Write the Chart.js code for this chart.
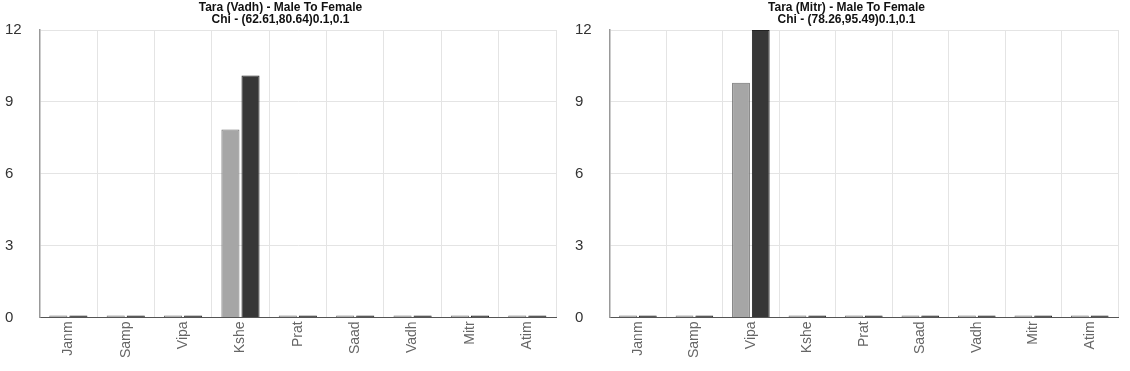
<!DOCTYPE html>
<html>
<head>
<meta charset="utf-8">
<script src="https://cdn.jsdelivr.net/npm/chart.js@4/dist/chart.umd.min.js"></script>
<style>
  html, body { margin: 0; padding: 0; background: #fff; }
  .wrap { position: absolute; top: 0; width: 565px; height: 371px; }
  #w1 { left: 0; }
  #w2 { left: 565px; }
</style>
</head>
<body>
<div class="wrap" id="w1"><canvas id="c1"></canvas></div>
<div class="wrap" id="w2"><canvas id="c2"></canvas></div>
<script>
// Tara charts: male vs female score per category
const categories = ['Janm', 'Samp', 'Vipa', 'Kshe', 'Prat', 'Saad', 'Vadh', 'Mitr', 'Atim'];
const yTicks = [0, 3, 6, 9, 12];

const vadhTitle = ['Tara (Vadh) - Male To Female', 'Chi - (62.61,80.64)0.1,0.1'];
const vadhMale = [0, 0, 0, 7.85, 0, 0, 0, 0, 0];
const vadhFemale = [0, 0, 0, 10.1, 0, 0, 0, 0, 0];

const mitrTitle = ['Tara (Mitr) - Male To Female', 'Chi - (78.26,95.49)0.1,0.1'];
const mitrMale = [0, 0, 9.8, 0, 0, 0, 0, 0, 0];
const mitrFemale = [0, 0, 12, 0, 0, 0, 0, 0, 0];

const FONT = "'Liberation Sans', Arial, sans-serif";

function makeChart(id, title, male, female, pad) {
  return new Chart(document.getElementById(id), {
    type: 'bar',
    data: {
      labels: categories,
      datasets: [
        { label: 'Male', data: male, backgroundColor: '#a6a6a6', borderColor: '#6e6e6e', borderWidth: 1, minBarLength: 2 },
        { label: 'Female', data: female, backgroundColor: '#373737', borderColor: '#222', borderWidth: 1, minBarLength: 2 },
      ],
    },
    options: {
      responsive: true,
      maintainAspectRatio: false,
      animation: false,
      categoryPercentage: 0.7,
      barPercentage: 0.9,
      layout: { padding: pad },
      plugins: {
        legend: { display: false },
        tooltip: { enabled: false },
        title: {
          display: true,
          text: title,
          color: '#111',
          font: { family: FONT, size: 12, weight: 'bold', lineHeight: 1.0 },
          padding: { top: 0, bottom: 4 },
        },
      },
      scales: {
        x: {
          grid: { color: '#e4e4e4', drawTicks: false },
          border: { color: '#555', width: 1 },
          ticks: { color: '#666', font: { family: FONT, size: 14 }, maxRotation: 90, minRotation: 90, padding: 4 },
        },
        y: {
          min: 0,
          max: 12,
          afterBuildTicks: s => { s.ticks = yTicks.map(v => ({ value: v })); },
          grid: { color: '#e4e4e4', drawTicks: false },
          border: { color: '#999', width: 1.5 },
          ticks: { color: '#333', font: { family: FONT, size: 15 }, crossAlign: 'far', padding: 9 },
        },
      },
    },
  });
}

makeChart('c1', vadhTitle, vadhMale, vadhFemale, { left: 5, right: 9, top: 2, bottom: 9 });
makeChart('c2', mitrTitle, mitrMale, mitrFemale, { left: 10, right: 12, top: 2, bottom: 9 });
</script>
</body>
</html>
